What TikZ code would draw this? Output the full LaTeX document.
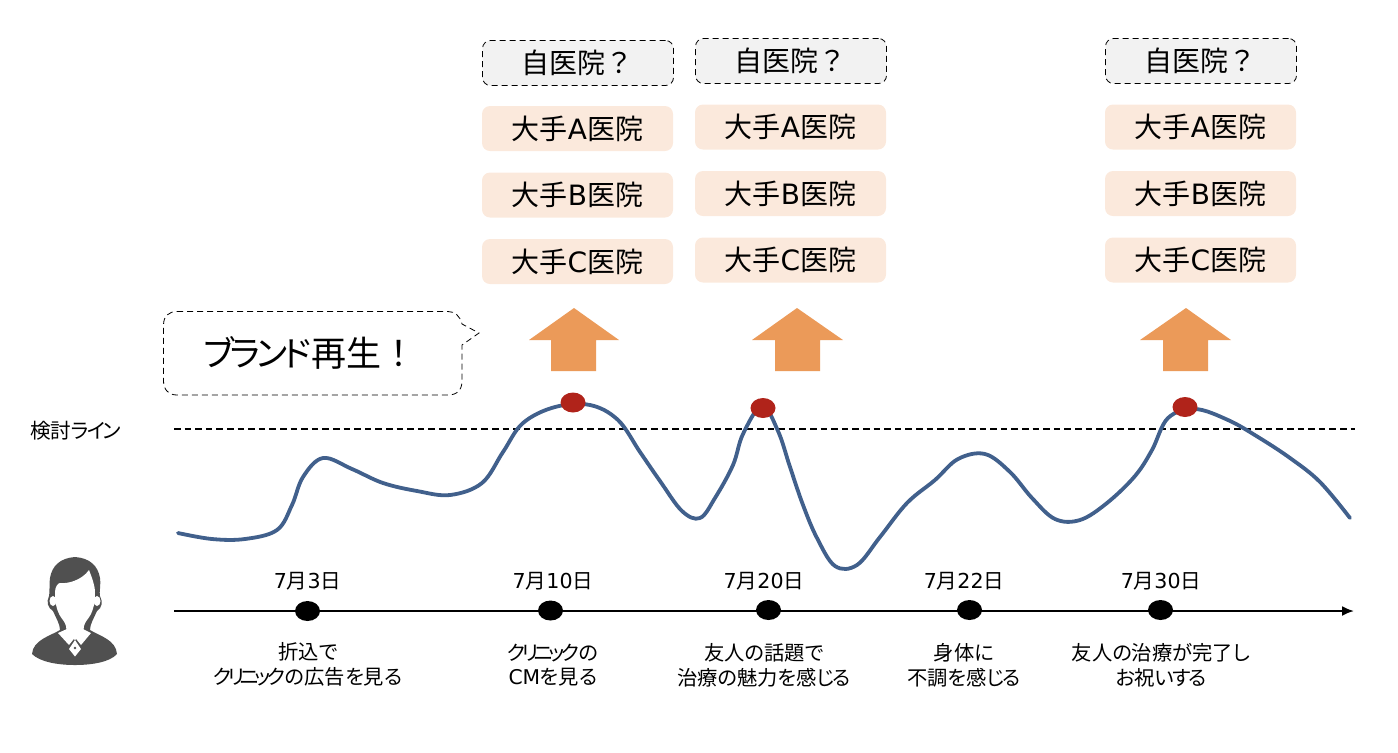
\documentclass[tikz,border=0pt]{standalone}
\usepackage{fontspec}
\setmainfont{Noto Sans CJK JP}[RawFeature={+palt}]
\newfontfamily\fwfont{Noto Sans CJK JP}
\newfontfamily\latfont{DejaVu Sans}
\newfontfamily\knfont{Noto Sans CJK JP}[LetterSpace=-11,RawFeature={+palt}]
\newfontfamily\knnfont{Noto Sans CJK JP}[LetterSpace=-20,RawFeature={+palt}]
\newcommand\fw[1]{{\fwfont #1}}
\newcommand\la[1]{{\latfont #1}}
\newcommand\kn[1]{{\knfont #1}}
\newcommand\knn[1]{{\knnfont #1}}
\usetikzlibrary{arrows.meta,shapes.geometric}
\definecolor{curveblue}{HTML}{41608C}
\definecolor{peach}{HTML}{FBE9DC}
\definecolor{selfgray}{HTML}{F2F2F2}
\definecolor{arroworange}{HTML}{EB9A59}
\definecolor{peakred}{HTML}{B0231A}
\definecolor{icon}{HTML}{505050}
\tikzset{
  x=0.5pt,y=-0.5pt,
  rival/.style={fill=peach,rounded corners=4pt,minimum width=95.5pt,minimum height=22.5pt,inner sep=0pt,font=\fontsize{14}{16}\selectfont},
  selfbox/.style={fill=selfgray,draw=black,densely dashed,line width=0.4pt,rounded corners=4pt,minimum width=95.5pt,minimum height=22.5pt,inner sep=0pt,font=\fontsize{14}{16}\selectfont},
  upblock/.style={fill=arroworange,draw=none},
  peak/.style={fill=peakred,ellipse,minimum width=12.5pt,minimum height=10pt,inner sep=0pt},
  tick/.style={fill=black,ellipse,minimum width=12.5pt,minimum height=10pt,inner sep=0pt},
  datelabel/.style={font=\fontsize{10.3}{12}\selectfont,inner sep=0pt},
  eventlabel/.style={font=\fontsize{10.15}{12.3}\selectfont,align=center,inner sep=0pt},
}
\begin{document}
\begin{tikzpicture}
\useasboundingbox (0,0) rectangle (1398,752);
% boxes
\node[selfbox] (s1) at (578,63) {自医院\fw{？}\kern1pt};
\node[selfbox] (s2) at (791,61) {自医院\fw{？}\kern1pt};
\node[selfbox] (s3) at (1201,61) {自医院\fw{？}\kern1pt};
\node[rival] (a1) at (577.5,128.5) {大手\la{A}医院};
\node[rival] (b1) at (577.5,195) {大手\la{B}医院};
\node[rival] (c1) at (577.5,261.5) {大手\la{C}医院};
\node[rival] (a2) at (790.5,127) {大手\la{A}医院};
\node[rival] (b2) at (790.5,193.5) {大手\la{B}医院};
\node[rival] (c2) at (790.5,260) {大手\la{C}医院};
\node[rival] (a3) at (1200.5,127) {大手\la{A}医院};
\node[rival] (b3) at (1200.5,193.5) {大手\la{B}医院};
\node[rival] (c3) at (1200.5,260) {大手\la{C}医院};
% arrows
\fill[upblock] (574,308) -- (619,340) -- (596,340) -- (596,371) -- (551,371) -- (551,340) -- (529,340) -- cycle;
\fill[upblock] (797,308) -- (843,340) -- (820,340) -- (820,371) -- (775,371) -- (775,340) -- (752,340) -- cycle;
\fill[upblock] (1186,308) -- (1231,340) -- (1208,340) -- (1208,371) -- (1163,371) -- (1163,340) -- (1140,340) -- cycle;
% callout
\draw[densely dashed,line width=0.4pt] (177,311.5) -- (448,311.5) .. controls (455,311.5) and (460,316) .. (462,324) -- (479,333) -- (462,345) -- (462,381) .. controls (462,390) and (457,395) .. (448,395) -- (177,395) .. controls (169,395) and (163.5,390) .. (163.5,381) -- (163.5,325) .. controls (163.5,316) and (169,311.5) .. (177,311.5) -- cycle;
\node[inner sep=0pt,font=\fontsize{17.5}{20}\selectfont] (brand) at (310,353) {\kn{ブランド}再生\fw{！}};
% threshold
\node[inner sep=0pt,font=\fontsize{10.3}{12}\selectfont] (thr) at (75.5,431) {検討\kn{ライン}};
\coordinate (t0) at (174,429);
\coordinate (t1) at (1355,429);
\draw[dash pattern=on 3.3pt off 2pt,line width=0.95pt] (t0) -- (t1);
% curve
\draw[curveblue,line width=1.9pt,line cap=round,line join=round] plot[smooth,tension=0.6] coordinates {(178,533) (212,539) (245,539) (277,530) (292,505) (303,477) (323,458) (352,469) (383,483) (417,491) (450,495) (482,483) (503,452) (523,423) (555,407) (590,405) (618,420) (640,452) (660,481) (682,511) (700,518) (715,498) (733,465) (743,434) (762,406) (778,431) (790,467) (803,505) (817,538) (835,566) (857,565) (880,537) (907,503) (935,480) (958,459) (985,454) (1010,472) (1032,498) (1055,519) (1080,520) (1107,503) (1135,476) (1152,450) (1168,418) (1195,409) (1228,420) (1258,437) (1290,458) (1320,482) (1350,518)};
\node[peak] (p1) at (573,402.5) {};
\node[peak] (p2) at (763,408) {};
\node[peak] (p3) at (1185,407) {};
% timeline
\coordinate (l0) at (174,611);
\coordinate (l1) at (1354,611);
\draw[line width=1pt,-{Latex[length=6pt,width=5pt]}] (l0) -- (l1);
\node[tick] (d1) at (307.5,611) {};
\node[tick] (d2) at (550.5,610.5) {};
\node[tick] (d3) at (768.5,610) {};
\node[tick] (d4) at (969.5,610) {};
\node[tick] (d5) at (1160.5,610) {};
\node[datelabel] at (307.5,581) {\la{7}月\la{3}日};
\node[datelabel] at (553,581) {\la{7}月\la{10}日};
\node[datelabel] at (764,581) {\la{7}月\la{20}日};
\node[datelabel] at (964,581) {\la{7}月\la{22}日};
\node[datelabel] at (1161,581) {\la{7}月\la{30}日};
\node[eventlabel] at (308,664.5) {折込で\\\knn{クリニック}の広告を見る};
\node[eventlabel] at (553,665) {\knn{クリニック}の\\\la{CM}\kn{を}見\kn{る}};
\node[eventlabel] at (764,665) {友人の話題で\\治療\kn{の}魅力\kn{を}感\kn{じる}};
\node[eventlabel] at (964,665) {身体に\\不調\kn{を}感\kn{じる}};
\node[eventlabel] at (1161,665) {友人\kn{の}治療\kn{が}完了し\\\kn{お}祝\kn{いする}};
% person icon
\fill[icon] (75,557) .. controls (60,558) and (52,566) .. (50,578) .. controls (49,586) and (50,592) .. (49,596) .. controls (46,602) and (48,608) .. (53,611) .. controls (56,618) and (60,624) .. (60,630) .. controls (50,636) and (33,640) .. (32,654) .. controls (40,662) and (58,665) .. (75,665) .. controls (92,665) and (110,662) .. (117,654) .. controls (116,640) and (100,636) .. (90,630) .. controls (90,624) and (94,618) .. (97,611) .. controls (102,608) and (103,602) .. (100,596) .. controls (99,592) and (101,586) .. (100,578) .. controls (98,566) and (90,558) .. (75,557) -- cycle;
\fill[white] (55,592) .. controls (55,587) and (58,583) .. (60,583) .. controls (68,584) and (82,580) .. (89,570) .. controls (92,578) and (95,585) .. (95,593) .. controls (95,606) and (92,614) .. (87,620) .. controls (84,624) and (83,628) .. (84,632) -- (75,640) -- (66,632) .. controls (67,628) and (66,624) .. (63,620) .. controls (58,614) and (55,606) .. (55,592) -- cycle;
\fill[white] (53,601) ellipse (3.5 and 5);
\fill[white] (97,601) ellipse (3.5 and 5);
\fill[white] (58,633) -- (67,629) -- (75,637.5) -- (69,645) -- cycle;
\fill[white] (91,633) -- (83,629) -- (75,637.5) -- (81,645) -- cycle;
\fill[white] (75,640) -- (81,649) -- (75,656.5) -- (69,649) -- cycle;
\fill[icon] (75,648) circle (1.3);
\end{tikzpicture}
\end{document}
